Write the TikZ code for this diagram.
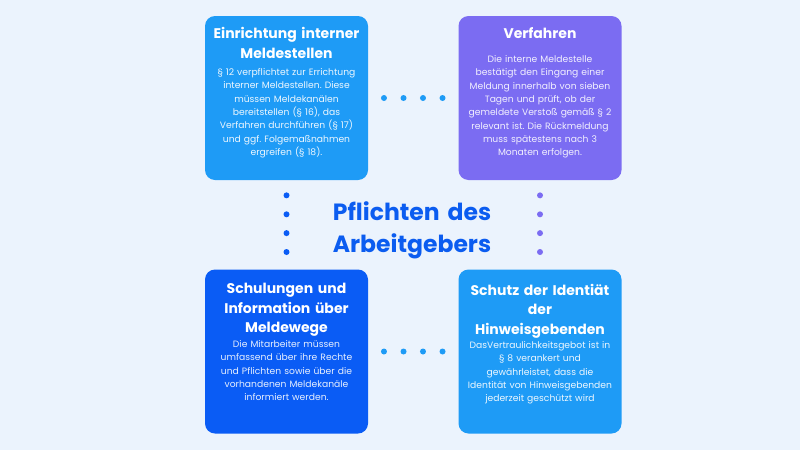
\documentclass[tikz,border=0pt]{standalone}
\usepackage{fontspec}
\setmainfont{Poppins}
\usetikzlibrary{calc}
\frenchspacing

\definecolor{bg}{HTML}{EBF3FD}
\definecolor{cA}{HTML}{1E9BF6}
\definecolor{cB}{HTML}{7B6CF2}
\definecolor{cC}{HTML}{0A5CF5}
\definecolor{ttl}{HTML}{0B5CF0}

\tikzset{
  card/.style={rounded corners=10pt, minimum width=163pt, minimum height=164pt, inner sep=0pt},
  htext/.style={text=white, font=\fontsize{14}{19.5}\selectfont\bfseries, align=center, anchor=base, text width=160pt, inner sep=0pt},
  btext/.style={text=white!92!cA, font=\fontsize{9.2}{13.3}\selectfont\frenchspacing, align=center, anchor=base, text width=160pt, inner sep=0pt},
  maintitle/.style={text=ttl, font=\fontsize{23.5}{32}\selectfont\bfseries, align=center, anchor=base, text width=220pt, inner sep=0pt}
}

\begin{document}
\begin{tikzpicture}[x=1pt,y=-1pt]
\fill[bg] (0,0) rectangle (800,450);
\useasboundingbox (0,0) rectangle (800,450);

\node[card, fill=cA] (b1) at (286.5,98) {};
\node[card, fill=cB] (b2) at (540,98) {};
\node[card, fill=cC] (b3) at (286.5,351.5) {};
\node[card, fill=cA] (b4) at (540,351.5) {};

% dotted connectors
\foreach \t in {0.175,0.392,0.608,0.825}{
  \fill[cA] ($(b1.east)!\t!(b2.west)$) circle (3pt);
  \fill[cA] ($(b3.east)!\t!(b4.west)$) circle (3pt);
}
\foreach \t in {0.17,0.383,0.594,0.806}{
  \fill[cC] ($(b1.south)!\t!(b3.north)$) circle (3pt);
  \fill[cB] ($(b2.south)!\t!(b4.north)$) circle (3pt);
}

\node[htext] (h1) at ($(b1.north)+(0,23)$) {Einrichtung interner\\Meldestellen};
\node[btext] (t1) at ($(b1.north)+(0,59.7)$) {§ 12 verpflichtet zur Errichtung\\interner Meldestellen. Diese\\müssen Meldekanälen\\bereitstellen (§ 16), das\\Verfahren durchführen (§ 17)\\und ggf. Folgemaßnahmen\\ergreifen (§ 18).};

\node[htext] (h2) at ($(b2.north)+(0,23)$) {Verfahren};
\node[btext, text=white!90!cB] (t2) at ($(b2.north)+(0,46.7)$) {Die interne Meldestelle\\bestätigt den Eingang einer\\Meldung innerhalb von sieben\\Tagen und prüft, ob der\\gemeldete Verstoß gemäß § 2\\relevant ist. Die Rückmeldung\\muss spätestens nach 3\\Monaten erfolgen.};

\node[htext] (h3) at ($(b3.north)+(0,24.3)$) {Schulungen und\\Information über\\Meldewege};
\node[btext, text=white!90!cC] (t3) at ($(b3.north)+(0,78.3)$) {Die Mitarbeiter müssen\\umfassend über ihre Rechte\\und Pflichten sowie über die\\vorhandenen Meldekanäle\\informiert werden.};

\node[htext] (h4) at ($(b4.north)+(0,26)$) {Schutz der Identiät\\der\\Hinweisgebenden};
\node[btext] (t4) at ($(b4.north)+(0,79.3)$) {DasVertraulichkeitsgebot ist in\\§ 8 verankert und\\gewährleistet, dass die\\Identität von Hinweisgebenden\\jederzeit geschützt wird};

\node[maintitle] (mt) at (412,220) {Pflichten des\\Arbeitgebers};
\end{tikzpicture}
\end{document}
